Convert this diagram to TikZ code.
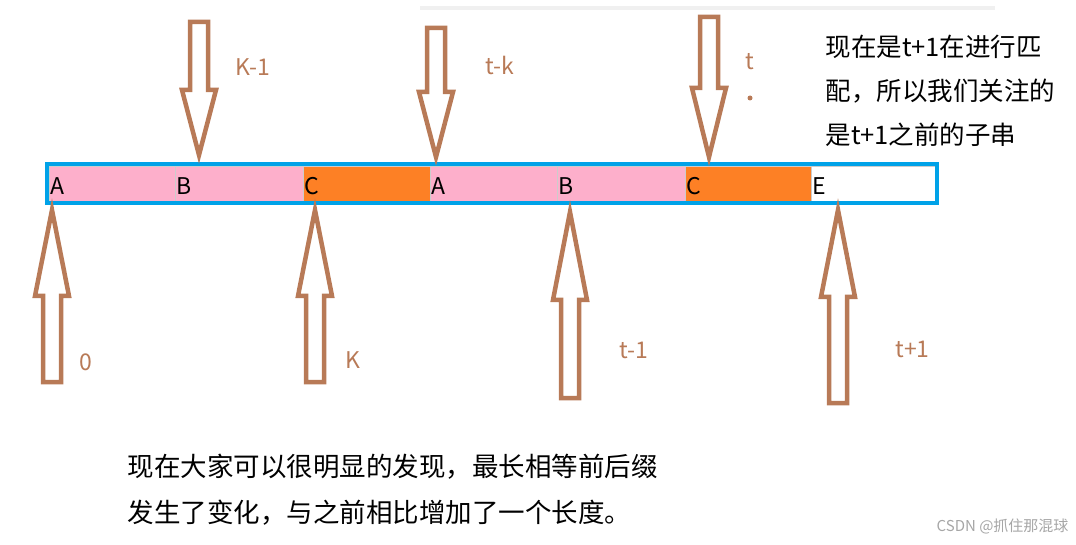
\documentclass[tikz,border=0pt]{standalone}
\usepackage{fontspec}
\setmainfont{Noto Sans CJK SC}
\definecolor{arr}{HTML}{B87A57}
\definecolor{pk}{HTML}{FDAFCB}
\definecolor{og}{HTML}{FD8025}
\definecolor{bl}{HTML}{00A2E8}
\tikzset{fat/.style={draw=arr,line width=4.5pt,line join=miter,fill=white},
lab/.style={text=arr,font=\fontsize{23}{25}\selectfont,anchor=west},
cell/.style={draw=black!20,line width=0.6pt,anchor=north west,minimum height=35pt,inner sep=1pt},
note/.style={anchor=west,font=\fontsize{25.5}{27}\selectfont},
bnote/.style={anchor=west,font=\fontsize{26.5}{28}\selectfont}}
\newcommand\dnarrow[4]{\draw[fat] (#1-9,#2) -- (#1+9,#2) -- (#1+9,#3) -- (#1+17,#3) -- (#1,#4) -- (#1-17,#3) -- (#1-9,#3) -- cycle;}
\begin{document}
\begin{tikzpicture}[x=1pt,y=-1pt]
\useasboundingbox (0,0) rectangle (1076,545);
\fill[black!6] (420,6) rectangle (995,10);
% cells
\node[cell,fill=pk,minimum width=126pt] (c1) at (49,166) {};
\node[cell,fill=pk,minimum width=128pt] (c2) at (175,166) {};
\node[cell,fill=og,minimum width=127pt] (c3) at (303,166) {};
\node[cell,fill=pk,minimum width=127pt] (c4) at (430,166) {};
\node[cell,fill=pk,minimum width=128pt] (c5) at (557,166) {};
\node[cell,fill=og,minimum width=126pt] (c6) at (685,166) {};
\node[cell,fill=white,minimum width=124pt] (c7) at (811,166) {};
\foreach \c/\t in {c1/A,c2/B,c3/C,c4/A,c5/B,c6/C,c7/E}
  \node[anchor=west,font=\fontsize{23}{24}\selectfont,inner sep=1pt] at ([yshift=-2pt]\c.west) {\t};
\draw[bl,line width=4pt] (47,164) rectangle (937,203);
% down arrows
\dnarrow{199}{22}{90}{155}
\dnarrow{436}{28}{92}{157}
\dnarrow{709}{17}{88}{157}
% up arrows
\dnarrow{52}{382}{296}{210}
\dnarrow{315}{382}{296}{210}
\dnarrow{570}{398}{300}{212}
\dnarrow{838}{403}{297}{210}
\node[lab] (l1) at (232,67) {K-1};
\node[lab] (l2) at (482,65) {t-k};
\node[lab] (l3) at (742,62) {t};
\fill[arr] (750,98) circle (2.5);
\node[lab] (l4) at (76,362) {0};
\node[lab] (l5) at (342,360) {K};
\node[lab] (l6) at (616,350) {t-1};
\node[lab] (l7) at (892,349) {t+1};
\node[note] (n1) at (822,47) {现在是t+1在进行匹};
\node[note] (n2) at (822,91) {配，所以我们关注的};
\node[note] (n3) at (822,135) {是t+1之前的子串};
\node[bnote] (b1) at (124,467) {现在大家可以很明显的发现，最长相等前后缀};
\node[bnote] (b2) at (124,513) {发生了变化，与之前相比增加了一个长度。};
\node[anchor=east,text=black!35,font=\fontsize{15}{16}\selectfont] (w) at (1072,526) {CSDN @抓住那混球};
\end{tikzpicture}
\end{document}
